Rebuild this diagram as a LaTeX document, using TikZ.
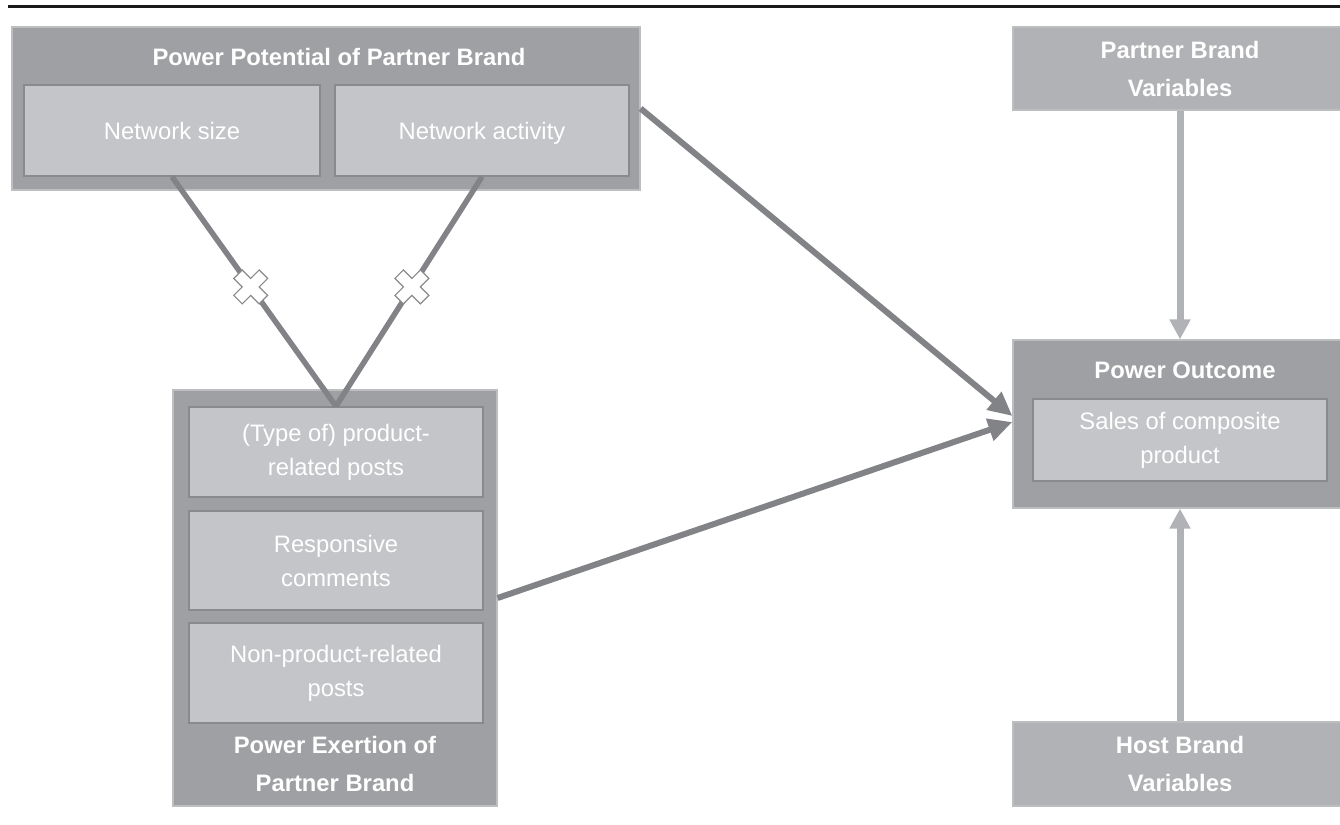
\documentclass[tikz,border=0pt]{standalone}
\usepackage{fontspec}
\setmainfont{Liberation Sans}
\usetikzlibrary{arrows.meta,positioning,calc}
\definecolor{Outer}{HTML}{9FA0A3}
\definecolor{OuterLine}{HTML}{BDBEC0}
\definecolor{Inner}{HTML}{C4C5C8}
\definecolor{InnerLine}{HTML}{898A8D}
\definecolor{Side}{HTML}{B1B2B5}
\definecolor{Link}{HTML}{828386}
\definecolor{Rule}{HTML}{1A1A1A}

\begin{document}
\begin{tikzpicture}[x=1pt,y=-1pt,
  every node/.style={font=\fontsize{23.8}{34}\selectfont,align=center,text=white,inner sep=0pt},
  outerbox/.style={draw=OuterLine,fill=Outer,line width=1.2pt},
  innerbox/.style={draw=InnerLine,fill=Inner,line width=1.5pt},
  sidebox/.style={draw=OuterLine,fill=Side,line width=1.2pt},
  heading/.style={font=\fontsize{23.8}{38}\selectfont\bfseries},
  vlink/.style={Link,line width=5.5pt},
  darklink/.style={Link,line width=6pt,-{Triangle[length=24pt,width=22pt]}},
  lightlink/.style={Side,line width=7pt,-{Triangle[length=20pt,width=20pt]}},
  crossmark/.pic={\draw[draw=InnerLine,fill=white,line width=1.2pt,rotate=45]
    (-6,-18) -- (6,-18) -- (6,-6) -- (18,-6) -- (18,6) -- (6,6) -- (6,18) -- (-6,18)
    -- (-6,6) -- (-18,6) -- (-18,-6) -- (-6,-6) -- cycle;}]
  \clip (0,0) rectangle (1340,824);
  \draw[Rule,line width=3.3pt] (8,6.7) -- (1340,6.7);

  % power potential
  \node[outerbox,minimum width=628pt,minimum height=163pt] (pp) at (326,108.5) {};
  \node[heading] (pptitle) at (339,57) {Power Potential of Partner Brand};
  \node[innerbox,text depth=0pt,minimum width=296pt,minimum height=91pt] (size) at (172,130.5) {Network size};
  \node[innerbox,text depth=0pt,minimum width=294pt,minimum height=91pt] (activity) at (482,130.5) {Network activity};

  % power exertion
  \node[outerbox,minimum width=324pt,minimum height=416pt] (pe) at (335,598) {};
  \node[innerbox,minimum width=294pt,minimum height=90pt] (type) at (336,452) {(Type of) product-\\related posts};
  \node[innerbox,minimum width=294pt,minimum height=99pt] (resp) at (336,560.5) {Responsive\\comments};
  \node[innerbox,minimum width=294pt,minimum height=100pt] (nonprod) at (336,673) {Non-product-related\\posts};
  \node[heading] (petitle) at (335,764) {Power Exertion of\\Partner Brand};

  % right column
  \node[sidebox,heading,minimum width=334pt,minimum height=83pt] (pbv) at (1180,68.5) {Partner Brand\\Variables};
  \node[outerbox,minimum width=334pt,minimum height=168pt] (po) at (1180,424) {};
  \node[heading] (potitle) at (1185,370) {Power Outcome};
  \node[innerbox,minimum width=294pt,minimum height=82pt] (sales) at (1180,440) {Sales of composite\\product};
  \node[sidebox,heading,minimum width=334pt,minimum height=84pt] (hbv) at (1180,764) {Host Brand\\Variables};

  % links
  \draw[vlink] (size.south) -- coordinate[pos=0.48] (xa) (type.north);
  \draw[vlink] (activity.south) -- coordinate[pos=0.48] (xb) (type.north);
  \pic at (xa) {crossmark};
  \pic at (xb) {crossmark};
  \draw[darklink] (pp.east) -- ([yshift=8pt]po.west);
  \draw[darklink] (pe.east) -- ([yshift=2pt]po.west);
  \draw[lightlink] (pbv.south) -- (po.north);
  \draw[lightlink] (hbv.north) -- (po.south);
\end{tikzpicture}
\end{document}
